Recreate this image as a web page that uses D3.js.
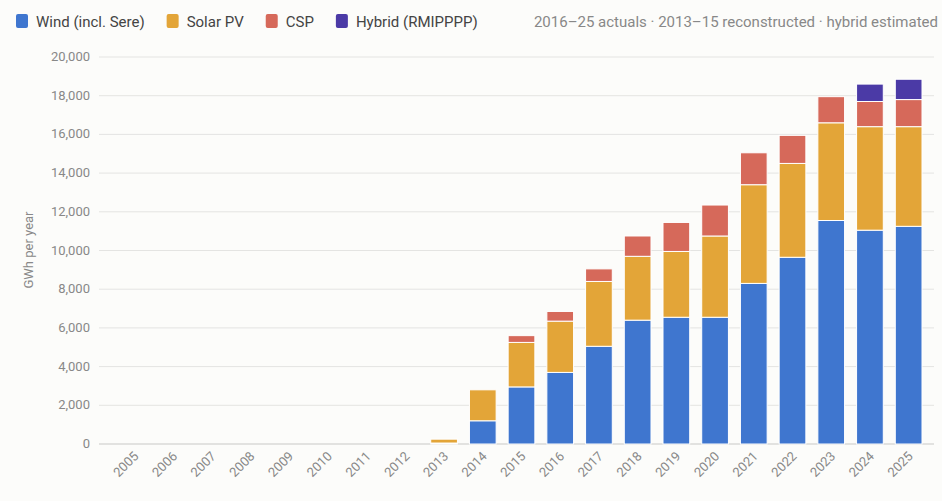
<!DOCTYPE html><html><head><meta charset="utf-8"><script src="https://cdn.jsdelivr.net/npm/d3@7"></script>
<style>body{margin:0;background:#fcfcfa;font-family:Roboto,"Noto Sans",sans-serif}</style></head><body><svg id="c" width="942" height="501"></svg>
<script>
const years=d3.range(2005,2026).map(String);
const wind=[0,0,0,0,0,0,0,0,50,1200,2950,3700,5050,6400,6550,6550,8300,9650,11550,11050,11250];
const solar=[0,0,0,0,0,0,0,0,200,1600,2300,2650,3350,3300,3400,4200,5100,4850,5050,5350,5150];
const csp=[0,0,0,0,0,0,0,0,0,0,350,500,650,1050,1500,1600,1650,1450,1350,1300,1400];
const hybrid=[0,0,0,0,0,0,0,0,0,0,0,0,0,0,0,0,0,0,0,900,1050];
const yTicks=[0,2000,4000,6000,8000,10000,12000,14000,16000,18000,20000];
const series=[{name:"Wind (incl. Sere)",v:wind,c:"#3f76cf"},{name:"Solar PV",v:solar,c:"#e3a538"},{name:"CSP",v:csp,c:"#d6695a"},{name:"Hybrid (RMIPPPP)",v:hybrid,c:"#4b3aa6"}];
const svg=d3.select("#c");
const x=d3.scaleBand().domain(years).range([109,934]).padding(0.31);
const y=d3.scaleLinear().domain([0,20000]).range([444,57]);
const g=svg.append("g");
g.selectAll("line.g").data(yTicks).join("line").attr("x1",99).attr("x2",934).attr("y1",d=>y(d)).attr("y2",d=>y(d)).attr("stroke",d=>d?"#e4e4e2":"#c8c8c6");
g.selectAll("text.y").data(yTicks).join("text").attr("x",90).attr("y",d=>y(d)+4).attr("text-anchor","end").attr("font-size",13).attr("fill","#888").text(d3.format(","));
svg.append("text").attr("transform","translate(33,250) rotate(-90)").attr("text-anchor","middle").attr("font-size",13).attr("fill","#888").text("GWh per year");
years.forEach((yr,i)=>{let acc=0;series.forEach(s=>{const v=s.v[i];if(v>0){svg.append("rect").attr("x",x(yr)).attr("width",x.bandwidth()).attr("y",y(acc+v)).attr("height",y(acc)-y(acc+v)).attr("fill",s.c).attr("stroke","#fff").attr("stroke-width",1);}acc+=v;});});
svg.selectAll("text.x").data(years).join("text").attr("transform",d=>`translate(${x(d)+x.bandwidth()/2+5},${457}) rotate(-45)`).attr("text-anchor","end").attr("font-size",13).attr("fill","#888").text(d=>d);
let lx=16;const lg=svg.append("g");
series.forEach(s=>{lg.append("rect").attr("x",lx).attr("y",14).attr("width",12).attr("height",14).attr("rx",2).attr("fill",s.c);const t=lg.append("text").attr("x",lx+20).attr("y",27).attr("font-size",15).attr("fill","#444").text(s.name);lx+=20+t.node().getComputedTextLength()+22;});
svg.append("text").attr("x",938).attr("y",27).attr("text-anchor","end").attr("font-size",15).attr("fill","#888").text("2016–25 actuals · 2013–15 reconstructed · hybrid estimated");
</script></body></html>
